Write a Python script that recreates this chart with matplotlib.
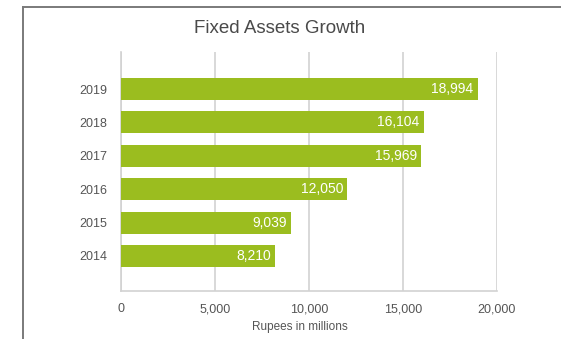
import matplotlib
matplotlib.use("Agg")
import matplotlib.pyplot as plt
from matplotlib.lines import Line2D
from matplotlib.ticker import FuncFormatter

plt.rcParams['font.family'] = ['Liberation Sans', 'DejaVu Sans']

years = ['2014', '2015', '2016', '2017', '2018', '2019']
assets = [8210, 9039, 12050, 15969, 16104, 18994]
x_ticks = [0, 5000, 10000, 15000, 20000]

bar_color = '#9bbd1f'
grid_color = '#d2d2d2'
text_color = '#555555'

fig = plt.figure(figsize=(5.61, 3.39), dpi=100)
ax = fig.add_axes([0.2157, 0.1416, 0.6697, 0.705])

pos = list(range(len(years)))
ax.barh(pos, assets, height=0.66, color=bar_color, zorder=3)

# value labels inside the bar ends
for p, v in zip(pos, assets):
    ax.text(v - 230, p, f'{v:,}', ha='right', va='center',
            color='white', fontsize=10, zorder=4)

ax.set_xlim(0, 20000)
ax.set_ylim(-1.05, 6.11)
ax.set_xticks(x_ticks)
ax.xaxis.set_major_formatter(FuncFormatter(lambda v, _: f'{int(v):,}'))
ax.set_yticks(pos)
ax.set_yticklabels(years)

ax.grid(axis='x', color=grid_color, linewidth=1.2, zorder=0)
ax.tick_params(axis='both', length=0, labelsize=9, labelcolor=text_color)
ax.tick_params(axis='x', pad=9)
ax.tick_params(axis='y', pad=10)

for side in ['top', 'right']:
    ax.spines[side].set_visible(False)
for side in ['left', 'bottom']:
    ax.spines[side].set_color(grid_color)
    ax.spines[side].set_linewidth(1.2)

fig.text(300 / 561, 1 - 327 / 339, 'Rupees in millions', ha='center',
         va='center', fontsize=8.5, color=text_color)
fig.text(279.5 / 561, 1 - 28.5 / 339, 'Fixed Assets Growth', ha='center',
         va='center', fontsize=13.5, color='#4a4a4a')

# outer panel border (top and left edges)
fx = 23 / 561
fy = 1 - 6.5 / 339
fig.add_artist(Line2D([fx, 1.0], [fy, fy], transform=fig.transFigure,
                      color='#7a7a7a', linewidth=1.4))
fig.add_artist(Line2D([fx, fx], [0, fy], transform=fig.transFigure,
                      color='#7a7a7a', linewidth=1.4))

fig.savefig('out.png', dpi=100)
